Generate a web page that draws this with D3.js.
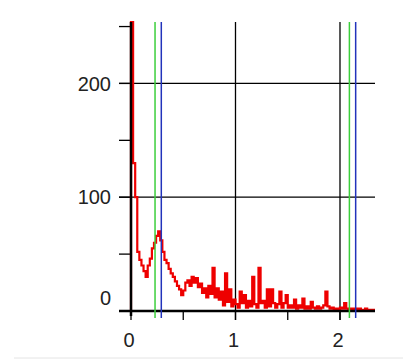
<!DOCTYPE html>
<html>
<head>
<meta charset="utf-8">
<script src="https://cdn.jsdelivr.net/npm/d3@7"></script>
<style>
  body { margin: 0; background: #fff; }
  text { font-family: 'Liberation Sans', Arial, sans-serif; font-size: 20px; fill: #222; }
</style>
</head>
<body>
<div id="chart"></div>
<script>
// histogram bins, width 0.02, starting at 0
const binWidth = 0.02;
const counts = [
  254, 130, 100, 52, 45, 40, 35, 30, 40, 46,
  55, 60, 66, 70, 62, 52, 45, 42, 37, 33,
  30, 26, 22, 19, 14, 18, 25, 27, 22, 30,
  25, 29, 21, 24, 16, 20, 12, 22, 15, 38,
  12, 20, 10, 17, 5, 33, 8, 19, 4, 10,
  6, 3, 17, 7, 14, 3, 9, 4, 30, 6,
  3, 38, 7, 9, 3, 19, 4, 19, 7, 3,
  6, 17, 3, 7, 14, 3, 5, 3, 10, 2,
  5, 3, 11, 2, 4, 2, 8, 3, 2, 4,
  2, 3, 5, 17, 4, 2, 3, 1, 2, 1,
  3, 2, 7, 2, 1, 2, 1, 2, 1, 2,
  1, 1, 2, 1, 1, 1, 1
];

// marker lines
const greenLines = [0.23, 2.09];
const blueLines = [0.29, 2.15];

const yTicks = [0, 50, 100, 150, 200, 250];
const yLabels = [0, 100, 200];
const yGrid = [100, 200];
const xTicks = [0, 0.5, 1, 1.5, 2];
const xLabels = [0, 1, 2];
const xGrid = [1, 2];

const width = 403;
const height = 360;

const x = d3.scaleLinear().domain([0, 2.335]).range([131, 375]);
const y = d3.scaleLinear().domain([0, 254]).range([311, 22]);

const svg = d3.select('#chart')
  .append('svg')
  .attr('width', width)
  .attr('height', height);

// faint line at the very bottom
svg.append('line')
  .attr('x1', 14).attr('x2', width)
  .attr('y1', 358).attr('y2', 358)
  .attr('stroke', '#e4e4e4');

// grid
svg.append('g')
  .selectAll('line')
  .data(yGrid)
  .enter()
  .append('line')
  .attr('x1', 119).attr('x2', x.range()[1])
  .attr('y1', (d) => y(d)).attr('y2', (d) => y(d))
  .attr('stroke', '#000')
  .attr('stroke-width', 1.3);

svg.append('g')
  .selectAll('line')
  .data(xGrid)
  .enter()
  .append('line')
  .attr('x1', (d) => x(d)).attr('x2', (d) => x(d))
  .attr('y1', y.range()[1]).attr('y2', 320)
  .attr('stroke', '#000')
  .attr('stroke-width', 1.3);

// ticks
svg.append('g')
  .selectAll('line')
  .data(yTicks)
  .enter()
  .append('line')
  .attr('x1', 119).attr('x2', 131)
  .attr('y1', (d) => y(d)).attr('y2', (d) => y(d))
  .attr('stroke', '#000')
  .attr('stroke-width', 1.3);

svg.append('g')
  .selectAll('line')
  .data(xTicks)
  .enter()
  .append('line')
  .attr('x1', (d) => x(d)).attr('x2', (d) => x(d))
  .attr('y1', y(0)).attr('y2', 320)
  .attr('stroke', '#000')
  .attr('stroke-width', 1.3);

// labels
svg.append('g')
  .selectAll('text')
  .data(yLabels)
  .enter()
  .append('text')
  .attr('x', 111)
  .attr('y', (d) => (d === 0 ? y(0) - 13 : y(d)))
  .attr('dy', '0.36em')
  .attr('text-anchor', 'end')
  .text((d) => d);

svg.append('g')
  .selectAll('text')
  .data(xLabels)
  .enter()
  .append('text')
  .attr('x', (d) => x(d) - 2)
  .attr('y', 347)
  .attr('text-anchor', 'middle')
  .text((d) => d);

// red histogram trace
const pts = counts.map((c, i) => [i * binWidth, c]);
pts.unshift([0, 0]);
pts.push([x.domain()[1], counts[counts.length - 1]]);

const line = d3.line()
  .x((d) => x(d[0]))
  .y((d) => y(d[1]))
  .curve(d3.curveStepAfter);

svg.append('path')
  .datum(pts)
  .attr('d', line)
  .attr('fill', 'none')
  .attr('stroke', '#ee0000')
  .attr('stroke-width', 2.2)
  .attr('stroke-linejoin', 'miter');

// axes (thick)
svg.append('line')
  .attr('x1', x(0)).attr('x2', x(0))
  .attr('y1', y.range()[1]).attr('y2', 316)
  .attr('stroke', '#000')
  .attr('stroke-width', 2.5);

svg.append('line')
  .attr('x1', 119).attr('x2', x.range()[1])
  .attr('y1', y(0)).attr('y2', y(0))
  .attr('stroke', '#000')
  .attr('stroke-width', 2.5);

// green and blue markers
svg.append('g')
  .selectAll('line')
  .data(greenLines)
  .enter()
  .append('line')
  .attr('x1', (d) => x(d)).attr('x2', (d) => x(d))
  .attr('y1', y.range()[1]).attr('y2', 318)
  .attr('stroke', '#3ccf3c')
  .attr('stroke-width', 1.5);

svg.append('g')
  .selectAll('line')
  .data(blueLines)
  .enter()
  .append('line')
  .attr('x1', (d) => x(d)).attr('x2', (d) => x(d))
  .attr('y1', y.range()[1]).attr('y2', 318)
  .attr('stroke', '#2233bb')
  .attr('stroke-width', 1.5);
</script>
</body>
</html>
